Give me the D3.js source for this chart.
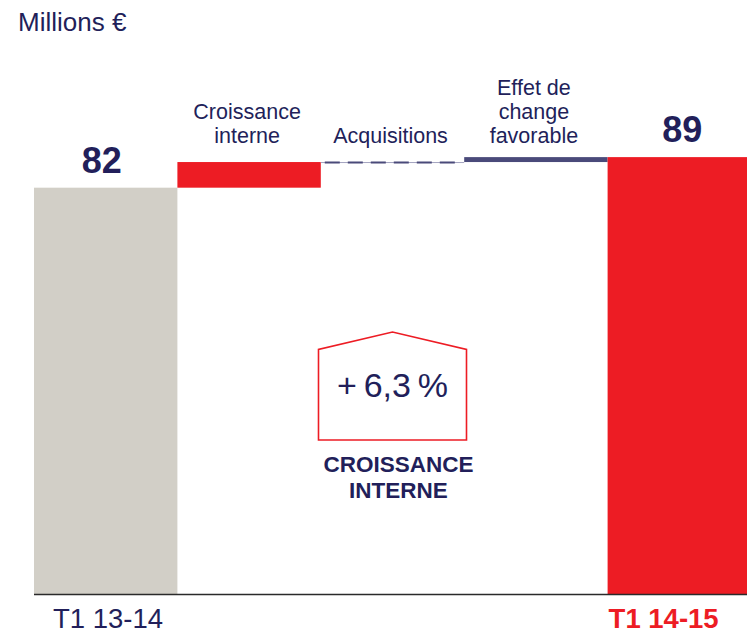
<!DOCTYPE html>
<html>
<head>
<meta charset="utf-8">
<script src="https://cdn.jsdelivr.net/npm/d3@7"></script>
<style>
  html, body { margin: 0; padding: 0; background: #fff; }
  svg { display: block; font-family: "Liberation Sans", Arial, Helvetica, sans-serif; }
</style>
</head>
<body>
<svg id="chart" width="747" height="635"></svg>
<script>
// ---- data ----
const categories = ["T1 13-14", "Croissance interne", "Acquisitions", "Effet de change favorable", "T1 14-15"];
const stepLabelLines = [[], ["Croissance", "interne"], ["Acquisitions"], ["Effet de", "change", "favorable"], []];
const values = [82.4, 5.2, 0.0, 1.0, 88.6];
const kinds = ["total", "delta", "delta", "delta", "total"];
const unitLabel = "Millions €";
const growthLabel = "+\u20096,3\u2009%";
const growthCaption = ["CROISSANCE", "INTERNE"];

// ---- styles ----
const NAVY = "#221f5a";
const RED = "#ed1c24";
const GRAY = "#d2cfc7";
const FX = "#4a4a7a";

const svg = d3.select("#chart");
const W = 747, H = 635;
const baseY = 594;

const x = d3.scaleBand().domain(categories).range([34, 34 + 5 * 143.4]).padding(0);
const y = d3.scaleLinear().domain([0, 100]).range([baseY, baseY - 493.1]);

// compute waterfall
let run = 0;
const rows = categories.map((c, i) => {
  let y0, y1;
  if (kinds[i] === "total") { y0 = 0; y1 = values[i]; run = values[i]; }
  else { y0 = run; y1 = run + values[i]; run = y1; }
  return { c, i, y0, y1, v: values[i], kind: kinds[i] };
});

const fills = [GRAY, RED, NAVY, FX, RED];

// bars
svg.append("g").selectAll("rect")
  .data(rows.filter(d => d.v !== 0))
  .join("rect")
  .attr("x", d => x(d.c))
  .attr("width", x.bandwidth())
  .attr("y", d => y(Math.max(d.y0, d.y1)))
  .attr("height", d => Math.abs(y(d.y0) - y(d.y1)))
  .attr("fill", d => fills[d.i]);

// zero-valued step: dashed line
rows.filter(d => d.v === 0).forEach(d => {
  const yy = y(d.y0) + 0.5;
  svg.append("line")
    .attr("x1", x(d.c)).attr("x2", x(d.c) + x.bandwidth())
    .attr("y1", yy).attr("y2", yy)
    .attr("stroke", "#a4a4bf").attr("stroke-width", 1);
  svg.append("line")
    .attr("x1", x(d.c)).attr("x2", x(d.c) + x.bandwidth() - 4)
    .attr("y1", yy).attr("y2", yy)
    .attr("stroke", FX).attr("stroke-width", 2)
    .attr("stroke-dasharray", "15 8").attr("stroke-dashoffset", 19);
});

// baseline axis
svg.append("line")
  .attr("x1", 34).attr("x2", W).attr("y1", baseY + 0.5).attr("y2", baseY + 0.5)
  .attr("stroke", "#2a2a2a").attr("stroke-width", 1.5);

// total value labels
svg.append("g").selectAll("text")
  .data(rows.filter(d => d.kind === "total"))
  .join("text")
  .attr("x", d => x(d.c) + x.bandwidth() / 2 + (d.i === 0 ? -4 : 3))
  .attr("y", d => y(d.y1) - 15)
  .attr("text-anchor", "middle")
  .attr("font-size", 36).attr("font-weight", "bold")
  .attr("fill", NAVY)
  .text(d => d3.format(".0f")(d.v));

// step labels (one text element per step, lines as tspans)
rows.filter(d => d.kind === "delta").forEach(d => {
  const lines = stepLabelLines[d.i];
  const cx = x(d.c) + x.bandwidth() / 2 - 2;
  const lastBase = 143;
  const t = svg.append("text")
    .attr("text-anchor", "middle")
    .attr("font-size", 21.5)
    .attr("fill", NAVY);
  lines.forEach((s, k) => {
    t.append("tspan")
      .attr("x", cx)
      .attr("y", lastBase - (lines.length - 1 - k) * 24.2)
      .text(s);
  });
});

// category labels
svg.append("text")
  .attr("x", x(categories[0]) + 19).attr("y", 628)
  .attr("font-size", 27.5).attr("fill", NAVY)
  .text(categories[0]);
svg.append("text")
  .attr("x", x(categories[4]) + 1).attr("y", 628)
  .attr("font-size", 27.5).attr("font-weight", "bold").attr("fill", RED)
  .text(categories[4]);

// unit label
svg.append("text")
  .attr("x", 18).attr("y", 31)
  .attr("font-size", 26).attr("fill", NAVY)
  .text(unitLabel);

// growth annotation (house shape)
const hc = x(categories[2]) + x.bandwidth() / 2;
const house = [[hc - 74, 440], [hc - 74, 349.5], [hc, 332], [hc + 74, 349.5], [hc + 74, 440]];
svg.append("path")
  .attr("d", d3.line()(house) + "Z")
  .attr("fill", "none").attr("stroke", RED).attr("stroke-width", 1.6);
svg.append("text")
  .attr("x", hc).attr("y", 397)
  .attr("text-anchor", "middle")
  .attr("font-size", 34).attr("fill", NAVY)
  .text(growthLabel);
const cap = svg.append("text")
  .attr("text-anchor", "middle")
  .attr("font-size", 22.5).attr("font-weight", "bold").attr("fill", NAVY);
growthCaption.forEach((s, k) => {
  cap.append("tspan")
    .attr("x", hc + 6).attr("y", 472 + k * 25.5)
    .text(s);
});
</script>
</body>
</html>
